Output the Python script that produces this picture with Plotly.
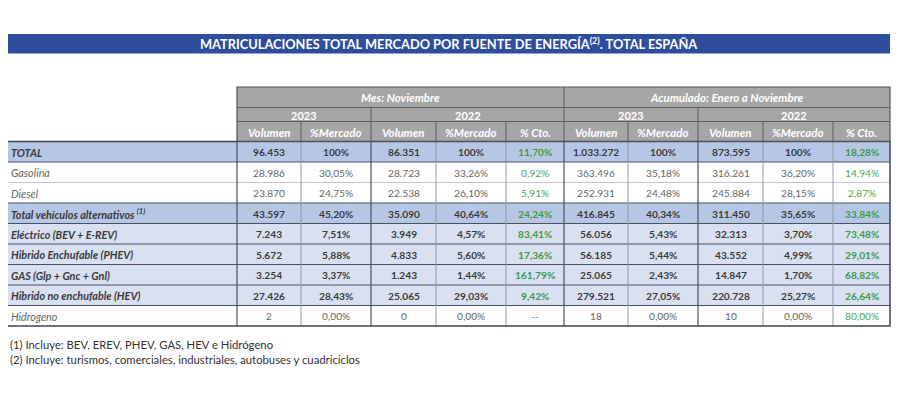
import plotly.graph_objects as go

# ---------------- data ----------------
title = "MATRICULACIONES TOTAL MERCADO POR FUENTE DE ENERGÍA<sup>(2)</sup>. TOTAL ESPAÑA"
section_labels = ["Mes: Noviembre", "Acumulado: Enero a Noviembre"]
year_labels = ["2023", "2022", "2023", "2022"]
sub_headers = ["Volumen", "%Mercado", "Volumen", "%Mercado", "% Cto.",
               "Volumen", "%Mercado", "Volumen", "%Mercado", "% Cto."]

row_labels = ["TOTAL", "Gasolina", "Diesel",
              "Total vehículos alternativos <sup>(1)</sup>",
              "Eléctrico (BEV + E-REV)", "Hibrido Enchufable (PHEV)",
              "GAS (Glp + Gnc + Gnl)", "Hibrido no enchufable (HEV)", "Hidrogeno"]
row_kind = ["main", "plain", "plain", "main", "sub", "sub", "sub", "sub", "plain"]

mes_vol_2023 = ["96.453", "28.986", "23.870", "43.597", "7.243", "5.672", "3.254", "27.426", "2"]
mes_pct_2023 = ["100%", "30,05%", "24,75%", "45,20%", "7,51%", "5,88%", "3,37%", "28,43%", "0,00%"]
mes_vol_2022 = ["86.351", "28.723", "22.538", "35.090", "3.949", "4.833", "1.243", "25.065", "0"]
mes_pct_2022 = ["100%", "33,26%", "26,10%", "40,64%", "4,57%", "5,60%", "1,44%", "29,03%", "0,00%"]
mes_cto = ["11,70%", "0,92%", "5,91%", "24,24%", "83,41%", "17,36%", "161,79%", "9,42%", "--"]
acu_vol_2023 = ["1.033.272", "363.496", "252.931", "416.845", "56.056", "56.185", "25.065", "279.521", "18"]
acu_pct_2023 = ["100%", "35,18%", "24,48%", "40,34%", "5,43%", "5,44%", "2,43%", "27,05%", "0,00%"]
acu_vol_2022 = ["873.595", "316.261", "245.884", "311.450", "32.313", "43.552", "14.847", "220.728", "10"]
acu_pct_2022 = ["100%", "36,20%", "28,15%", "35,65%", "3,70%", "4,99%", "1,70%", "25,27%", "0,00%"]
acu_cto = ["18,28%", "14,94%", "2,87%", "33,84%", "73,48%", "29,01%", "68,82%", "26,64%", "80,00%"]

columns = [mes_vol_2023, mes_pct_2023, mes_vol_2022, mes_pct_2022, mes_cto,
           acu_vol_2023, acu_pct_2023, acu_vol_2022, acu_pct_2022, acu_cto]
is_growth = [False, False, False, False, True, False, False, False, False, True]

footnotes = ["(1) Incluye: BEV, EREV, PHEV, GAS, HEV e Hidrógeno",
             "(2) Incluye: turismos, comerciales, industriales, autobuses y cuadriciclos"]

# ---------------- layout geometry (screen pixels) ----------------
FONT = "Lato"
xs = [7, 237, 301, 371, 436, 506, 564, 628, 698, 763, 833, 890]
hy = [87, 107.5, 121.5, 141.5]
RH = 20.5
ry = [hy[3] + i * RH for i in range(len(row_labels) + 1)]

fill = {"main": "#B6C7E6", "sub": "#D8E0F1", "plain": "#FFFFFF"}
txt_col = {"main": "#3a3a3a", "sub": "#3a3a3a", "plain": "#666666"}
weight = {"main": "bold", "sub": "bold", "plain": "normal"}
green = {"main": "#3f9a45", "sub": "#3f9a45", "plain": "#4fa852"}

DARK = "#4a5262"
MID = "#8f98aa"
LIGHT = "#c4c8cf"
HDR = "#A6A6A6"

shapes = []
ann = []

def rect(x0, y0, x1, y1, fc, lc=None, lw=0):
    shapes.append(dict(type="rect", xref="x", yref="y", x0=x0, x1=x1, y0=y0, y1=y1,
                       fillcolor=fc, line=dict(color=lc or fc, width=lw), layer="below"))

def line(x0, y0, x1, y1, c, w=1):
    shapes.append(dict(type="line", xref="x", yref="y", x0=x0, x1=x1, y0=y0, y1=y1,
                       line=dict(color=c, width=w), layer="above"))

def text(x, y, s, size, color, w="normal", style="normal", xa="center"):
    ann.append(dict(x=x, y=y, xref="x", yref="y", text=s, showarrow=False,
                    xanchor=xa, yanchor="middle",
                    font=dict(family=FONT, size=size, color=color, weight=w, style=style)))

# title bar
rect(7, 34, 890, 53.5, "#2E4E9D")
text(448.5, 43.8, title, 12.8, "white", "bold")

# header block
rect(xs[1], hy[0], xs[-1], hy[3], HDR)
line(xs[1], hy[1], xs[-1], hy[1], "#5c5c5c")
line(xs[1], hy[2], xs[-1], hy[2], "#5c5c5c")
line(xs[6], hy[0], xs[6], hy[1], "#5c5c5c")
for xv in (xs[3], xs[6], xs[8]):
    line(xv, hy[1], xv, hy[2], "#5c5c5c")
for xv in xs[2:-1]:
    line(xv, hy[2], xv, hy[3], "#5c5c5c")

text((xs[1] + xs[6]) / 2, (hy[0] + hy[1]) / 2, section_labels[0], 11.5, "white", "bold", "italic")
text((xs[6] + xs[-1]) / 2, (hy[0] + hy[1]) / 2, section_labels[1], 11.5, "white", "bold", "italic")
year_spans = [(xs[1], xs[3]), (xs[3], xs[6]), (xs[6], xs[8]), (xs[8], xs[11])]
for (a, b), lab in zip(year_spans, year_labels):
    text((a + b) / 2, (hy[1] + hy[2]) / 2 + 0.5, lab, 11, "white", "bold")
for j, lab in enumerate(sub_headers):
    text((xs[j + 1] + xs[j + 2]) / 2, (hy[2] + hy[3]) / 2 + 0.5, lab, 11.5, "white", "bold", "italic")

# body rows
for i, lab in enumerate(row_labels):
    k = row_kind[i]
    y0, y1 = ry[i], ry[i + 1]
    yc = (y0 + y1) / 2 + 0.5
    rect(xs[0], y0, xs[-1], y1, fill[k])
    text(xs[0] + 2, yc, lab, 10.8, txt_col[k], weight[k], "italic", "left")
    for j, col in enumerate(columns):
        c = green[k] if is_growth[j] else txt_col[k]
        text((xs[j + 1] + xs[j + 2]) / 2, yc, col[i], 10.2, c, weight[k])

# horizontal grid
for i in range(1, len(row_labels)):
    c = LIGHT if (row_kind[i - 1] == "plain" and row_kind[i] == "plain") else DARK
    line(xs[0], ry[i], xs[-1], ry[i], c)
# vertical grid
for xv in (xs[2], xs[4], xs[5], xs[7], xs[9], xs[10]):
    line(xv, ry[0], xv, ry[-1], MID)
for xv in (xs[1], xs[3], xs[6], xs[8]):
    line(xv, ry[0], xv, ry[-1], DARK, 1.2)
# outer borders
shapes.append(dict(type="rect", xref="x", yref="y", x0=xs[0], x1=xs[-1], y0=ry[0], y1=ry[-1],
                   fillcolor="rgba(0,0,0,0)", line=dict(color="#3c4555", width=1.5), layer="above"))
shapes.append(dict(type="rect", xref="x", yref="y", x0=xs[1], x1=xs[-1], y0=hy[0], y1=hy[3],
                   fillcolor="rgba(0,0,0,0)", line=dict(color="#555555", width=1.2), layer="above"))

# footnotes
text(8, 344.5, footnotes[0], 11.3, "#333333", xa="left")
text(8, 359.5, footnotes[1], 11.3, "#333333", xa="left")

# page body has an 8px margin: shift the axis window so coordinates are screen pixels
OFF = 8
fig = go.Figure()
fig.add_trace(go.Scatter(x=[OFF, 900 + OFF], y=[OFF, 400 + OFF], mode="markers",
                         marker=dict(opacity=0), hoverinfo="skip", showlegend=False))
fig.update_layout(
    width=900, height=400,
    margin=dict(l=0, r=0, t=0, b=0),
    paper_bgcolor="white", plot_bgcolor="white",
    xaxis=dict(range=[OFF, 900 + OFF], visible=False, fixedrange=True),
    yaxis=dict(range=[400 + OFF, OFF], visible=False, fixedrange=True),
    shapes=shapes, annotations=ann, showlegend=False,
)
fig.write_html("out.html")
